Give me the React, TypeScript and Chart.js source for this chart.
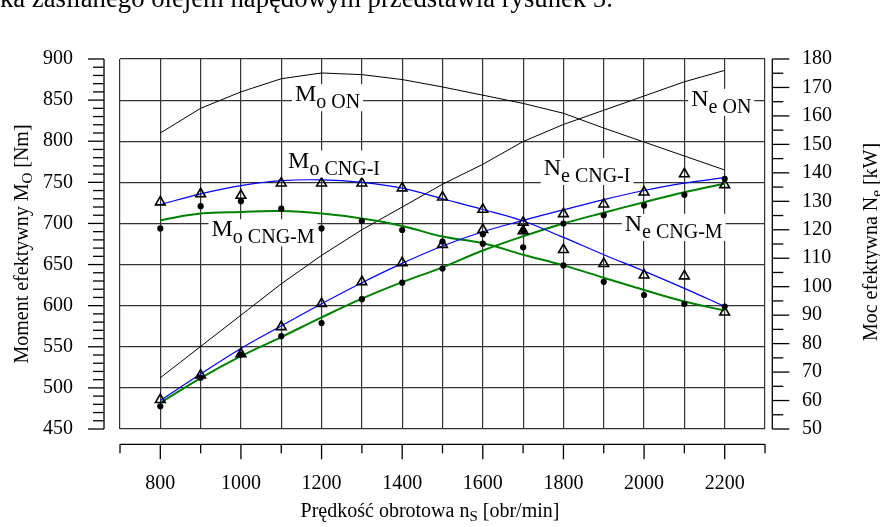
import React, { useEffect, useRef } from "react";
import { Chart, registerables } from "chart.js";

Chart.register(...registerables);

const FONT = '"Liberation Serif", "Times New Roman", serif';

// Engine speed [obr/min]
const RPM = [800, 900, 1000, 1100, 1200, 1300, 1400, 1500, 1600, 1700, 1800, 1900, 2000, 2100, 2200];

// Diesel (ON) characteristics
const M_ON = [810, 840, 860, 876, 883, 881, 875, 866, 856, 846, 834, 816, 799, 782, 765];
const N_ON = [68, 79, 90, 101, 111, 120, 128, 136, 143, 151, 157, 162, 167, 172, 176];

// Fitted curves, CNG-I (blue) and CNG-M (green)
const M_CNG_I_FIT = [723, 736, 746, 752, 753, 750, 743, 730, 717, 703, 683, 662, 642, 621, 599];
const N_CNG_I_FIT = [60, 69.3, 78.3, 86.2, 94, 101.4, 108.2, 114.3, 119.3, 123.3, 127, 130.6, 133.8, 136.4, 138.3];
const M_CNG_M_FIT = [704, 712, 714, 715, 712, 706, 697, 684, 676, 662, 649, 634, 619, 605, 594];
const N_CNG_M_FIT = [59.2, 67.9, 75.6, 82.3, 89.2, 95.8, 101.6, 106.8, 112.7, 117.7, 122.2, 126, 129.7, 133.2, 136.2];

// Measured points
const M_CNG_I = [726, 736, 734, 749, 749, 749, 743, 732, 717, 691, 668, 651, 637, 636, 592];
const N_CNG_I = [60.3, 68.9, 76.4, 85.9, 94, 101.7, 108.4, 114.8, 120, 122.6, 125.6, 129, 133.2, 139.6, 135.8];
const M_CNG_M = [694, 721, 727, 718, 694, 703, 692, 678, 687, 671, 649, 629, 613, 602, 599];
const N_CNG_M = [58, 68, 76.1, 82.6, 87.2, 95.6, 101.4, 106.4, 115.1, 119.6, 122.2, 125.1, 128.5, 132.3, 137.9];

// Axis ranges / tick labels
const X_MIN = 700, X_MAX = 2300;
const X_LABELED = [800, 1000, 1200, 1400, 1600, 1800, 2000, 2200];
const Y_MIN = 450, Y_MAX = 900;
const Y1_MIN = 50, Y1_MAX = 180;

// Curve annotations (anchor in data coords: rpm, Nm)
const CURVE_LABELS = [
  { main: "M", sub: "o ON", x: 1134, y: 848.6 },
  { main: "N", sub: "e ON", x: 2117, y: 843 },
  { main: "M", sub: "o CNG-I", x: 1117, y: 768 },
  { main: "N", sub: "e CNG-I", x: 1751, y: 759 },
  { main: "M", sub: "o CNG-M", x: 927, y: 684.4 },
  { main: "N", sub: "e CNG-M", x: 1952, y: 691 },
];

const TOP_TEXT = "ka zasilanego olejem napędowym przedstawia rysunek 5.";
const Y_TITLE: [string, boolean][] = [["Moment efektywny M", false], ["O", true], [" [Nm]", false]];
const Y1_TITLE: [string, boolean][] = [["Moc efektywna N", false], ["e", true], [" [kW]", false]];
const X_TITLE: [string, boolean][] = [["Prędkość obrotowa n", false], ["S", true], [" [obr/min]", false]];

function pts(vals: number[]) {
  return RPM.map((r, i) => ({ x: r, y: vals[i] }));
}

function drawParts(ctx: CanvasRenderingContext2D, parts: [string, boolean][], cx: number, cy: number, main: number, sub: number, off: number) {
  let total = 0;
  const widths = parts.map(([t, s]) => {
    ctx.font = `${s ? sub : main}px ${FONT}`;
    const w = ctx.measureText(t).width;
    total += w;
    return w;
  });
  let x = cx - total / 2;
  parts.forEach(([t, s], i) => {
    ctx.font = `${s ? sub : main}px ${FONT}`;
    ctx.fillText(t, x, cy + (s ? off : 0));
    x += widths[i];
  });
}

const decorations = {
  id: "decorations",
  afterDraw(chart: any) {
    const { ctx, chartArea } = chart;
    const { left, right, top, bottom } = chartArea;
    const xs = chart.scales.x, ys = chart.scales.y, ys1 = chart.scales.y1;
    ctx.save();
    ctx.textAlign = "left";
    ctx.textBaseline = "alphabetic";

    // curve labels with white boxes
    for (const lb of CURVE_LABELS) {
      const px = xs.getPixelForValue(lb.x);
      const py = ys.getPixelForValue(lb.y);
      ctx.font = `24px ${FONT}`;
      const wm = ctx.measureText(lb.main).width;
      ctx.font = `20px ${FONT}`;
      const wsub = ctx.measureText(lb.sub).width;
      ctx.fillStyle = "#fff";
      ctx.fillRect(px - 3, py - 17, wm + wsub + 6, 27);
      ctx.fillStyle = "#000";
      ctx.font = `24px ${FONT}`;
      ctx.fillText(lb.main, px, py);
      ctx.font = `20px ${FONT}`;
      ctx.fillText(lb.sub, px + wm, py + 7);
    }

    // offset axes
    ctx.strokeStyle = "#000";
    ctx.lineWidth = 1.3;
    const line = (x1: number, y1: number, x2: number, y2: number) => {
      ctx.beginPath();
      ctx.moveTo(x1, y1);
      ctx.lineTo(x2, y2);
      ctx.stroke();
    };
    // left
    const lx = left - 16;
    line(lx, ys.getPixelForValue(Y_MIN), lx, ys.getPixelForValue(Y_MAX));
    for (let v = Y_MIN; v <= Y_MAX; v += 10) {
      const p = ys.getPixelForValue(v);
      line(lx - (v % 50 === 0 ? 16 : 11), p, lx, p);
    }
    // right
    const rx = right + 7.3;
    line(rx, ys1.getPixelForValue(Y1_MIN), rx, ys1.getPixelForValue(Y1_MAX));
    for (let v = Y1_MIN; v <= Y1_MAX; v += 5) {
      const p = ys1.getPixelForValue(v);
      line(rx, p, rx + (v % 10 === 0 ? 17 : 11), p);
    }
    // bottom
    const by = bottom + 15.3;
    line(xs.getPixelForValue(X_MIN), by, xs.getPixelForValue(X_MAX), by);
    for (let v = X_MIN; v <= X_MAX; v += 100) {
      const p = xs.getPixelForValue(v);
      line(p, by, p, by + (X_LABELED.includes(v) ? 15 : 9));
    }

    // titles
    ctx.fillStyle = "#000";
    ctx.save();
    ctx.translate(28.3, (top + bottom) / 2);
    ctx.rotate(-Math.PI / 2);
    drawParts(ctx, Y_TITLE, 0, 0, 20, 15, 4);
    ctx.restore();

    ctx.save();
    ctx.translate(876.7, (top + bottom) / 2 - 2);
    ctx.rotate(-Math.PI / 2);
    drawParts(ctx, Y1_TITLE, 0, 0, 20, 15, 4);
    ctx.restore();

    drawParts(ctx, X_TITLE, 430, 516.7, 20, 15, 4);

    // clipped document text at the top
    ctx.font = `26.7px ${FONT}`;
    ctx.fillText(TOP_TEXT, 0, 7);

    ctx.restore();
  },
};

export default function App() {
  const ref = useRef<HTMLCanvasElement | null>(null);

  useEffect(() => {
    if (!ref.current) return;
    const tickFont = { family: FONT, size: 20, lineHeight: 1.2 };
    const gridColor = "#333";
    const chart = new Chart(ref.current, {
      type: "line",
      data: {
        datasets: [
          {
            label: "M CNG-I pts", data: pts(M_CNG_I), yAxisID: "y", showLine: false,
            pointStyle: "triangle", pointRadius: 5.6, borderColor: "#000", borderWidth: 1.6,
            pointBorderWidth: 1.6, pointBackgroundColor: "rgba(0,0,0,0)", pointBorderColor: "#000",
          },
          {
            label: "N CNG-I pts", data: pts(N_CNG_I), yAxisID: "y1", showLine: false,
            pointStyle: "triangle", pointRadius: 5.6, borderColor: "#000", borderWidth: 1.6,
            pointBorderWidth: 1.6, pointBackgroundColor: "rgba(0,0,0,0)", pointBorderColor: "#000",
          },
          {
            label: "M CNG-M pts", data: pts(M_CNG_M), yAxisID: "y", showLine: false,
            pointStyle: "circle", pointRadius: 3.1, pointBorderWidth: 0,
            pointBackgroundColor: "#000", pointBorderColor: "#000",
          },
          {
            label: "N CNG-M pts", data: pts(N_CNG_M), yAxisID: "y1", showLine: false,
            pointStyle: "circle", pointRadius: 3.1, pointBorderWidth: 0,
            pointBackgroundColor: "#000", pointBorderColor: "#000",
          },
          { label: "M CNG-I", data: pts(M_CNG_I_FIT), yAxisID: "y", borderColor: "#0000ff", borderWidth: 1.2, pointRadius: 0, tension: 0.4 },
          { label: "N CNG-I", data: pts(N_CNG_I_FIT), yAxisID: "y1", borderColor: "#0000ff", borderWidth: 1.2, pointRadius: 0, tension: 0.4 },
          { label: "M CNG-M", data: pts(M_CNG_M_FIT), yAxisID: "y", borderColor: "#008000", borderWidth: 2, pointRadius: 0, tension: 0.4 },
          { label: "N CNG-M", data: pts(N_CNG_M_FIT), yAxisID: "y1", borderColor: "#008000", borderWidth: 2, pointRadius: 0, tension: 0.4 },
          { label: "M ON", data: pts(M_ON), yAxisID: "y", borderColor: "#000", borderWidth: 1, pointRadius: 0, tension: 0 },
          { label: "N ON", data: pts(N_ON), yAxisID: "y1", borderColor: "#000", borderWidth: 1, pointRadius: 0, tension: 0 },
        ],
      },
      options: {
        responsive: false,
        animation: false,
        events: [],
        layout: { padding: { top: 20, left: 0, right: 0, bottom: 0 } },
        plugins: { legend: { display: false }, tooltip: { enabled: false }, title: { display: false } },
        scales: {
          x: {
            type: "linear",
            min: X_MIN,
            max: X_MAX,
            afterFit: (s: any) => { s.height = 98; },
            border: { display: false },
            grid: { color: gridColor, lineWidth: 1.2, drawTicks: false },
            ticks: {
              stepSize: 100,
              autoSkip: false,
              maxRotation: 0,
              padding: 43,
              color: "#000",
              font: tickFont,
              callback: (v: any) => (X_LABELED.includes(Number(v)) ? String(v) : ""),
            },
          },
          y: {
            type: "linear",
            position: "left",
            min: Y_MIN,
            max: Y_MAX,
            afterFit: (s: any) => { s.width = 120; },
            border: { display: false },
            grid: { color: gridColor, lineWidth: 1.2, drawTicks: false },
            ticks: { stepSize: 50, autoSkip: false, padding: 47, color: "#000", font: tickFont },
          },
          y1: {
            type: "linear",
            position: "right",
            min: Y1_MIN,
            max: Y1_MAX,
            afterFit: (s: any) => { s.width = 115; },
            border: { display: false },
            grid: { drawOnChartArea: false, drawTicks: false },
            ticks: { stepSize: 10, autoSkip: false, padding: 37, color: "#000", font: tickFont },
          },
        },
      },
      plugins: [decorations],
    });
    return () => chart.destroy();
  }, []);

  return (
    <div style={{ position: "fixed", left: 0, top: 0, width: 880, height: 527, background: "#fff" }}>
      <canvas ref={ref} width={880} height={527} style={{ display: "block", width: 880, height: 527 }} />
    </div>
  );
}
